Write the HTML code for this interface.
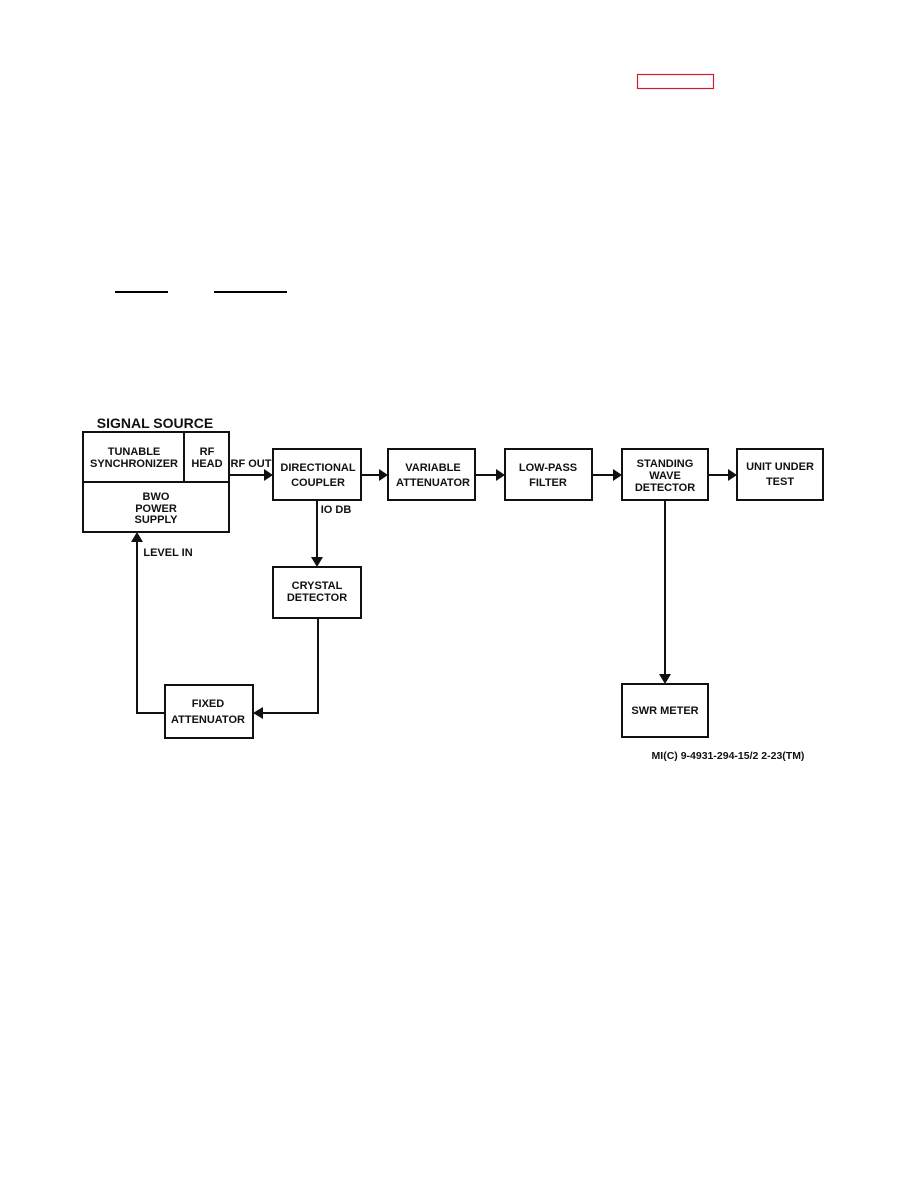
<!DOCTYPE html>
<html><head><style>
body{margin:0;background:#fff;}
svg text{font-family:"Liberation Sans",sans-serif;font-weight:bold;fill:#111;}
</style></head><body>
<svg width="918" height="1188" viewBox="0 0 918 1188" xmlns="http://www.w3.org/2000/svg">
<rect x="637.5" y="74.5" width="76" height="14" fill="none" stroke="#d02030" stroke-width="1.2"/>
<line x1="115" y1="292" x2="168" y2="292" stroke="#000" stroke-width="2"/>
<line x1="214" y1="292" x2="287" y2="292" stroke="#000" stroke-width="2"/>
<g fill="none" stroke="#111" stroke-width="2">
<rect x="83" y="432" width="146" height="100"/>
<line x1="83" y1="482" x2="229" y2="482"/>
<line x1="184" y1="432" x2="184" y2="482"/>
<rect x="273" y="449" width="88" height="51"/>
<rect x="388" y="449" width="87" height="51"/>
<rect x="505" y="449" width="87" height="51"/>
<rect x="622" y="449" width="86" height="51"/>
<rect x="737" y="449" width="86" height="51"/>
<rect x="273" y="567" width="88" height="51"/>
<rect x="165" y="685" width="88" height="53"/>
<rect x="622" y="684" width="86" height="53"/>
<path d="M229 475H265 M361 475H380 M475 475H497 M592 475H614 M708 475H729"/>
<path d="M317 500V558 M318 618V713H262 M165 713H137V541 M665 500V675"/>
</g>
<g fill="#111">
<polygon points="273,475 264,469 264,481"/>
<polygon points="388,475 379,469 379,481"/>
<polygon points="505,475 496,469 496,481"/>
<polygon points="622,475 613,469 613,481"/>
<polygon points="737,475 728,469 728,481"/>
<polygon points="317,567 311,557 323,557"/>
<polygon points="253,713 263,707 263,719"/>
<polygon points="137,532 131,542 143,542"/>
<polygon points="665,684 659,674 671,674"/>
</g>
<g font-size="11" text-anchor="middle">
<text x="155" y="428" font-size="14">SIGNAL SOURCE</text>
<text x="134" y="455">TUNABLE</text>
<text x="134" y="467">SYNCHRONIZER</text>
<text x="207" y="455">RF</text>
<text x="207" y="467">HEAD</text>
<text x="156" y="500">BWO</text>
<text x="156" y="512">POWER</text>
<text x="156" y="523">SUPPLY</text>
<text x="251" y="467">RF OUT</text>
<text x="318" y="471">DIRECTIONAL</text>
<text x="318" y="486">COUPLER</text>
<text x="433" y="471">VARIABLE</text>
<text x="433" y="486">ATTENUATOR</text>
<text x="548" y="471">LOW-PASS</text>
<text x="548" y="486">FILTER</text>
<text x="665" y="467">STANDING</text>
<text x="665" y="479">WAVE</text>
<text x="665" y="491">DETECTOR</text>
<text x="780" y="470">UNIT UNDER</text>
<text x="780" y="485">TEST</text>
<text x="336" y="513">IO DB</text>
<text x="317" y="589">CRYSTAL</text>
<text x="317" y="601">DETECTOR</text>
<text x="168" y="556">LEVEL  IN</text>
<text x="208" y="707">FIXED</text>
<text x="208" y="723">ATTENUATOR</text>
<text x="665" y="714">SWR METER</text>
<text x="728" y="759" font-size="10.5">MI(C) 9-4931-294-15/2 2-23(TM)</text>
</g>
</svg>
</body></html>
